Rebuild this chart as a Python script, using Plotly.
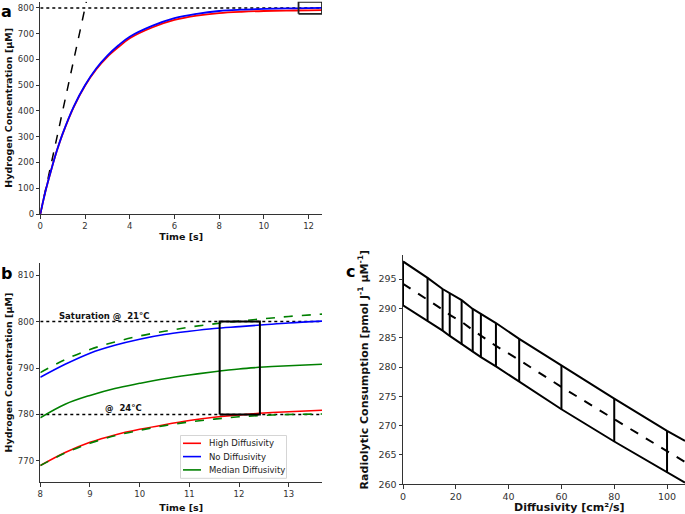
import plotly.graph_objects as go

# ---------------- Panel a data ----------------
t_a = [0, 0.25, 0.5, 0.75, 1, 1.5, 2, 2.5, 3, 3.5, 4, 5, 6, 7, 8, 9, 10, 11, 12, 12.6]
no_diff_a = [0, 95, 175, 248, 312, 418, 500, 565, 615, 655, 688, 730, 760, 777, 788, 793, 796, 798, 799, 800]
high_diff_a = [0, 95, 175, 248, 311, 416, 498, 561, 610, 648, 682, 724, 753, 770, 780, 785, 788, 789.5, 790.5, 791]
slope_x_a = [0, 2.06]
slope_y_a = [0, 824]
sat_a = 800
box_a_x = [11.55, 12.6]
box_a_y = [777, 823]

# ---------------- Panel b data ----------------
t_b = [8, 8.5, 9, 9.5, 10, 10.5, 11, 11.5, 12, 12.5, 13, 13.67]
high_b = [769, 771.8, 774, 775.6, 776.8, 777.8, 778.7, 779.4, 779.9, 780.3, 780.6, 780.9]
none_b = [788, 790.8, 793.2, 794.9, 796.2, 797.2, 797.9, 798.5, 798.9, 799.3, 799.7, 800.1]
median_b = [779.3, 782.2, 784.1, 785.6, 786.7, 787.7, 788.5, 789.2, 789.8, 790.2, 790.5, 790.8]
median_hi_b = [789, 791.8, 794, 795.6, 796.9, 797.9, 798.8, 799.5, 800.1, 800.6, 801.1, 801.6]
median_lo_b = [769, 771.7, 773.8, 775.4, 776.6, 777.6, 778.4, 779.0, 779.5, 779.8, 780.0, 780.1]
sat21_b = 800
sat24_b = 780
box_b_x = [11.61, 12.42]
box_b_y = [780, 800]
legend_names = ["High Diffusivity", "No Diffusivity", "Median Diffusivity"]

# ---------------- Panel c data ----------------
diff_c = [0, 9.3, 15, 17.7, 22.2, 26.4, 29.5, 35.2, 44, 60, 80, 100]
upper_c = [298, 295.2, 293.3, 292.6, 291.4, 289.9, 289.1, 287.5, 284.8, 280.2, 274.6, 269.1]
mean_c = [294.2, 291.5, 289.8, 288.9, 287.7, 286.3, 285.4, 283.6, 281.2, 276.6, 271.1, 265.6]
lower_c = [290.5, 287.9, 286.2, 285.3, 283.9, 282.6, 281.7, 280.1, 277.5, 272.8, 267.3, 262.0]
edge_x_c = 106.8
edge_upper_c = 267.4
edge_mean_c = 263.8
edge_lower_c = 260.3

RED, BLUE, GREEN = "#ff0000", "#0000ff", "#008000"
AX = "#333333"
FONT = "DejaVu Sans"
W, H = 685, 514

fig = go.Figure()

# ---- Panel a ----
fig.add_trace(go.Scatter(x=[0, 12.6], y=[sat_a, sat_a], mode="lines",
                         line=dict(color="black", width=1.5, dash="dot"),
                         xaxis="x", yaxis="y", showlegend=False))
fig.add_trace(go.Scatter(x=slope_x_a, y=slope_y_a, mode="lines",
                         line=dict(color="black", width=1.5, dash="dash"),
                         xaxis="x", yaxis="y", showlegend=False))
fig.add_trace(go.Scatter(x=t_a, y=high_diff_a, mode="lines", line=dict(color=RED, width=1.8, shape="spline"),
                         xaxis="x", yaxis="y", showlegend=False))
fig.add_trace(go.Scatter(x=t_a, y=no_diff_a, mode="lines", line=dict(color=BLUE, width=1.8, shape="spline"),
                         xaxis="x", yaxis="y", showlegend=False))
fig.add_trace(go.Scatter(x=[box_a_x[0], box_a_x[1], box_a_x[1], box_a_x[0], box_a_x[0]],
                         y=[box_a_y[0], box_a_y[0], box_a_y[1], box_a_y[1], box_a_y[0]],
                         mode="lines", line=dict(color="#222", width=1.8),
                         xaxis="x", yaxis="y", showlegend=False, cliponaxis=False))

# ---- Panel b ----
fig.add_trace(go.Scatter(x=[8, 13.67], y=[sat21_b, sat21_b], mode="lines",
                         line=dict(color="black", width=1.5, dash="dot"),
                         xaxis="x2", yaxis="y2", showlegend=False))
fig.add_trace(go.Scatter(x=[8, 13.67], y=[sat24_b, sat24_b], mode="lines",
                         line=dict(color="black", width=1.5, dash="dot"),
                         xaxis="x2", yaxis="y2", showlegend=False))
fig.add_trace(go.Scatter(x=t_b, y=high_b, mode="lines", name=legend_names[0], showlegend=False,
                         line=dict(color=RED, width=1.6, shape="spline"), xaxis="x2", yaxis="y2"))
fig.add_trace(go.Scatter(x=t_b, y=none_b, mode="lines", name=legend_names[1], showlegend=False,
                         line=dict(color=BLUE, width=1.6, shape="spline"), xaxis="x2", yaxis="y2"))
fig.add_trace(go.Scatter(x=t_b, y=median_b, mode="lines", name=legend_names[2], showlegend=False,
                         line=dict(color=GREEN, width=1.6, shape="spline"), xaxis="x2", yaxis="y2"))
fig.add_trace(go.Scatter(x=t_b, y=median_hi_b, mode="lines", showlegend=False,
                         line=dict(color=GREEN, width=1.6, dash="dash", shape="spline"), xaxis="x2", yaxis="y2"))
fig.add_trace(go.Scatter(x=t_b, y=median_lo_b, mode="lines", showlegend=False,
                         line=dict(color=GREEN, width=1.6, dash="dash", shape="spline"), xaxis="x2", yaxis="y2"))
fig.add_trace(go.Scatter(x=[box_b_x[0], box_b_x[1], box_b_x[1], box_b_x[0], box_b_x[0]],
                         y=[box_b_y[0], box_b_y[0], box_b_y[1], box_b_y[1], box_b_y[0]],
                         mode="lines", line=dict(color="black", width=2),
                         xaxis="x2", yaxis="y2", showlegend=False))

# ---- Panel c ----
xs_c = diff_c + [edge_x_c]
fig.add_trace(go.Scatter(x=xs_c, y=upper_c + [edge_upper_c], mode="lines",
                         line=dict(color="black", width=2), xaxis="x3", yaxis="y3", showlegend=False))
fig.add_trace(go.Scatter(x=xs_c, y=lower_c + [edge_lower_c], mode="lines",
                         line=dict(color="black", width=2), xaxis="x3", yaxis="y3", showlegend=False))
fig.add_trace(go.Scatter(x=xs_c, y=mean_c + [edge_mean_c], mode="lines",
                         line=dict(color="black", width=2, dash="dash"), xaxis="x3", yaxis="y3", showlegend=False))
bar_x, bar_y = [], []
for xv, lo, hi in zip(diff_c, lower_c, upper_c):
    bar_x += [xv, xv, None]
    bar_y += [lo, hi, None]
fig.add_trace(go.Scatter(x=bar_x, y=bar_y, mode="lines", line=dict(color="black", width=2),
                         xaxis="x3", yaxis="y3", showlegend=False, cliponaxis=False))


def ax(domain, rng, dtick, title, tfs, tickfs, standoff, anchor):
    d = dict(domain=domain, range=rng, dtick=dtick, showgrid=False, zeroline=False,
             showline=True, linecolor=AX, linewidth=1, mirror=False,
             ticks="outside", ticklen=3.5, tickwidth=1, tickcolor=AX,
             tickfont=dict(family=FONT, size=tickfs, color=AX),
             automargin=False, anchor=anchor)
    if title:
        d["title"] = dict(text=title, font=dict(family=FONT, size=tfs, color="#111", weight="bold"),
                          standoff=standoff)
    return d


fig.update_layout(
    width=W, height=H, margin=dict(l=0, r=0, t=0, b=0),
    template="none", paper_bgcolor="white", plot_bgcolor="white",
    font=dict(family=FONT, color=AX), showlegend=False,
    xaxis=ax([40.3 / W, 322 / W], [0, 12.6], 2, "Time [s]", 9.5, 8.5, 3, "y"),
    yaxis=ax([1 - 214 / H, 1 - 1.7 / H], [0, 824], 100, "Hydrogen Concentration [μM]", 9.5, 8.5, 3, "x"),
    xaxis2=ax([40.3 / W, 322 / W], [8, 13.67], 1, "Time [s]", 9.5, 8.5, 6, "y2"),
    yaxis2=ax([1 - 482.3 / H, 1 - 263 / H], [765.4, 812.6], 10, "Hydrogen Concentration [μM]", 9.5, 8.5, 3, "x2"),
    xaxis3=ax([403 / W, 1.0], [0, 106.8], 20, None, 11, 9.5, 6, "y3"),
    yaxis3=ax([1 - 484.3 / H, 1 - 255 / H], [260, 299.1], 5,
              "Radiolytic Consumption [pmol J<sup>-1</sup> μM<sup>-1</sup>]", 11, 9.5, 7, "x3"),
)

# ---- legend box for panel b (drawn to match the compact original legend) ----
fig.add_shape(type="rect", xref="paper", yref="paper",
              x0=180.5 / W, x1=286.5 / W, y0=1 - 478.3 / H, y1=1 - 435.5 / H,
              line=dict(color="#d5d5d5", width=1), fillcolor="rgba(255,255,255,0.85)", layer="above")
for i, (nm, col) in enumerate(zip(legend_names, [RED, BLUE, GREEN])):
    yy = 1 - (443.3 + 13.3 * i) / H
    fig.add_shape(type="line", xref="paper", yref="paper", x0=183 / W, x1=201 / W, y0=yy, y1=yy,
                  line=dict(color=col, width=1.6), layer="above")
    fig.add_annotation(text=nm, x=207 / W, y=yy, xref="paper", yref="paper", showarrow=False,
                       xanchor="left", yanchor="middle",
                       font=dict(family=FONT, size=8.5, color="#222"))

ann = [
    dict(text="a", x=6 / W, y=1 - 0.5 / H),
    dict(text="b", x=6 / W, y=1 - 262 / H),
    dict(text="c", x=350 / W, y=1 - 260 / H),
]
for a in ann:
    fig.add_annotation(text=a["text"], x=a["x"], y=a["y"], xref="paper", yref="paper",
                       showarrow=False, xanchor="center", yanchor="top",
                       font=dict(family=FONT, size=16, color="black", weight="bold"))

fig.add_annotation(text="Diffusivity [cm²/s]", x=569 / W, y=1 - 507 / H, xref="paper", yref="paper",
                   showarrow=False, xanchor="center", yanchor="middle",
                   font=dict(family=FONT, size=11, color="#111", weight="bold"))
fig.add_annotation(text="Saturation @  21°C", x=8.33, y=800, xref="x2", yref="y2",
                   showarrow=False, xanchor="left", yanchor="bottom", yshift=-1,
                   font=dict(family=FONT, size=8.5, color="#111", weight="bold"))
fig.add_annotation(text="@  24°C", x=10.08, y=780, xref="x2", yref="y2",
                   showarrow=False, xanchor="right", yanchor="bottom", yshift=-1,
                   font=dict(family=FONT, size=8.5, color="#111", weight="bold"))

fig.write_html("out.html", config={"displayModeBar": False},
               post_script="document.body.style.margin='0';document.body.style.overflow='hidden';")
